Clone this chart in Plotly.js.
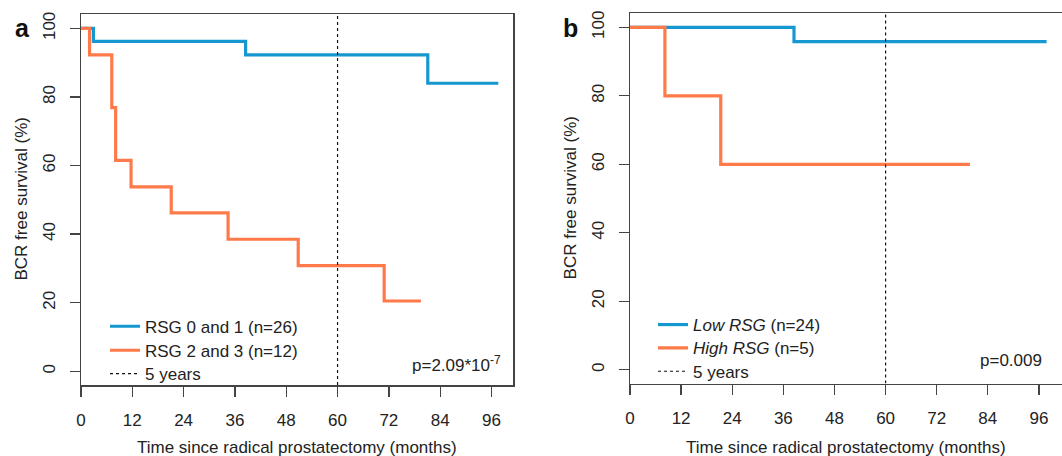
<!DOCTYPE html>
<html><head><meta charset="utf-8">
<script src="https://cdn.plot.ly/plotly-3.0.1.min.js"></script>
<style>html,body{margin:0;padding:0;background:#fff}#chart{width:1062px;height:456px}</style>
</head><body><div id="chart"></div>
<script>
// ---- data: panel a ----
const aLowTime  = [0, 2.9, 38.5, 81.1, 97.6];
const aLowSurv  = [100, 96.2, 92.3, 84.0, 84.0];
const aHighTime = [0, 2.0, 7.2, 8.1, 11.7, 21.1, 34.4, 50.8, 70.9, 79.5];
const aHighSurv = [100, 92.3, 76.9, 61.5, 53.8, 46.2, 38.5, 30.8, 20.5, 20.5];
// ---- data: panel b ----
const bLowTime  = [0, 38.5, 97.8];
const bLowSurv  = [100, 95.8, 95.8];
const bHighTime = [0, 8.2, 21.3, 79.8];
const bHighSurv = [100, 80, 60, 60];
const fiveYears = 60;
const xTicks = [0, 12, 24, 36, 48, 60, 72, 84, 96];
const yTicks = [0, 20, 40, 60, 80, 100];
const aNames = ['RSG 0 and 1 (n=26)', 'RSG 2 and 3 (n=12)', '5 years'];
const bNames = ['<i>Low RSG</i> (n=24)', '<i>High RSG</i> (n=5)', '5 years'];
const pValues = ['p=2.09*10<sup>-7</sup>', 'p=0.009'];
const panelLabels = ['a', 'b'];
const xTitle = 'Time since radical prostatectomy (months)';
const yTitle = 'BCR free survival (%)';

// ---- style ----
const W = 1062, H = 456;
const BLUE = '#1598cf', ORANGE = '#ff7a4a';
const FONT = 'Liberation Sans, Arial, sans-serif';
const TXT = '#222';
const yRangeA = [-4.0, 104.2], yRangeB = [-4.0, 104.1];

function surv(t, s, color, name, xa, ya, leg) {
  return {x: t, y: s, xaxis: xa, yaxis: ya, type: 'scatter', mode: 'lines', name: name,
    legend: leg, line: {shape: 'hv', color: color, width: 3.2}, hoverinfo: 'skip'};
}
function vline(name, xa, ya, leg, yr) {
  return {x: [fiveYears, fiveYears], y: yr, xaxis: xa, yaxis: ya, type: 'scatter', mode: 'lines',
    name: name, legend: leg, line: {color: '#111', width: 1.2, dash: 'dot'}, hoverinfo: 'skip'};
}

const data = [
  surv(aLowTime, aLowSurv, BLUE, aNames[0], 'x', 'y', 'legend'),
  surv(aHighTime, aHighSurv, ORANGE, aNames[1], 'x', 'y', 'legend2'),
  vline(aNames[2], 'x', 'y', 'legend3', yRangeA),
  surv(bLowTime, bLowSurv, BLUE, bNames[0], 'x2', 'y2', 'legend4'),
  surv(bHighTime, bHighSurv, ORANGE, bNames[1], 'x2', 'y2', 'legend5'),
  vline(bNames[2], 'x2', 'y2', 'legend6', yRangeB)
];

function xax(dom, range, anchor) {
  return {domain: dom, range: range, anchor: anchor, tickvals: xTicks, ticktext: xTicks.map(String),
    ticks: 'outside', ticklen: 10, tickwidth: 1.3, tickcolor: '#444',
    showline: true, linecolor: '#444', linewidth: 1.5, mirror: true,
    showgrid: false, zeroline: false, automargin: false,
    tickfont: {family: FONT, size: 17, color: TXT}, ticklabelstandoff: 9};
}
function yax(dom, range, anchor) {
  return {domain: dom, range: range, anchor: anchor, tickvals: yTicks, ticktext: yTicks.map(String),
    tickangle: -90, ticks: 'outside', ticklen: 10, tickwidth: 1.3, tickcolor: '#444',
    showline: true, linecolor: '#444', linewidth: 1.5, mirror: true,
    showgrid: false, zeroline: false, automargin: false,
    tickfont: {family: FONT, size: 17, color: TXT}, ticklabelstandoff: 8};
}

const legendStyle = (x, yPx) => ({x: x / W, y: 1 - yPx / H, xanchor: 'left', yanchor: 'middle',
  bgcolor: 'rgba(0,0,0,0)', borderwidth: 0, font: {family: FONT, size: 17, color: TXT}});

const ann = [];
// axis titles
ann.push({xref: 'x domain', yref: 'paper', x: 0.5, y: 1 - 447 / H, text: xTitle, showarrow: false,
  xanchor: 'center', yanchor: 'middle', font: {family: FONT, size: 17, color: TXT}});
ann.push({xref: 'x2 domain', yref: 'paper', x: 0.5, y: 1 - 447 / H, text: xTitle, showarrow: false,
  xanchor: 'center', yanchor: 'middle', font: {family: FONT, size: 17, color: TXT}});
ann.push({xref: 'paper', yref: 'y domain', x: 21 / W, y: 0.5, text: yTitle, textangle: -90, showarrow: false,
  xanchor: 'center', yanchor: 'middle', font: {family: FONT, size: 17, color: TXT}});
ann.push({xref: 'paper', yref: 'y2 domain', x: 570 / W, y: 0.5, text: yTitle, textangle: -90, showarrow: false,
  xanchor: 'center', yanchor: 'middle', font: {family: FONT, size: 17, color: TXT}});
// panel labels
ann.push({xref: 'paper', yref: 'paper', x: 22.7 / W, y: 1 - 28.3 / H, text: '<b>' + panelLabels[0] + '</b>',
  showarrow: false, xanchor: 'center', yanchor: 'middle', font: {family: FONT, size: 25, color: '#111'}});
ann.push({xref: 'paper', yref: 'paper', x: 570 / W, y: 1 - 28 / H, text: '<b>' + panelLabels[1] + '</b>',
  showarrow: false, xanchor: 'center', yanchor: 'middle', font: {family: FONT, size: 25, color: '#111'}});
// p-values
ann.push({xref: 'x', yref: 'y', x: 98.6, y: 2.2, text: pValues[0], showarrow: false,
  xanchor: 'right', yanchor: 'middle', font: {family: FONT, size: 17, color: TXT}});
ann.push({xref: 'x2', yref: 'y2', x: 97.1, y: 2.6, text: pValues[1], showarrow: false,
  xanchor: 'right', yanchor: 'middle', font: {family: FONT, size: 17, color: TXT}});

const layout = {
  width: W, height: H, margin: {l: 0, r: 0, t: 0, b: 0},
  paper_bgcolor: '#fff', plot_bgcolor: '#fff',
  font: {family: FONT, size: 17, color: TXT},
  xaxis: xax([81 / W, 513.3 / W], [0, 101.1], 'y'),
  yaxis: yax([1 - 385 / H, 1 - 14 / H], yRangeA, 'x'),
  xaxis2: xax([630 / W, 1061.5 / W], [0, 101.3], 'y2'),
  yaxis2: yax([1 - 383.5 / H, 1 - 13.3 / H], yRangeB, 'x2'),
  showlegend: true,
  legend:  legendStyle(105, 326.7),
  legend2: legendStyle(105, 350.7),
  legend3: legendStyle(105, 374),
  legend4: legendStyle(653, 325),
  legend5: legendStyle(653, 348.3),
  legend6: legendStyle(653, 371.7),
  annotations: ann
};

Plotly.newPlot('chart', data, layout, {staticPlot: true, displayModeBar: false});
</script></body></html>
